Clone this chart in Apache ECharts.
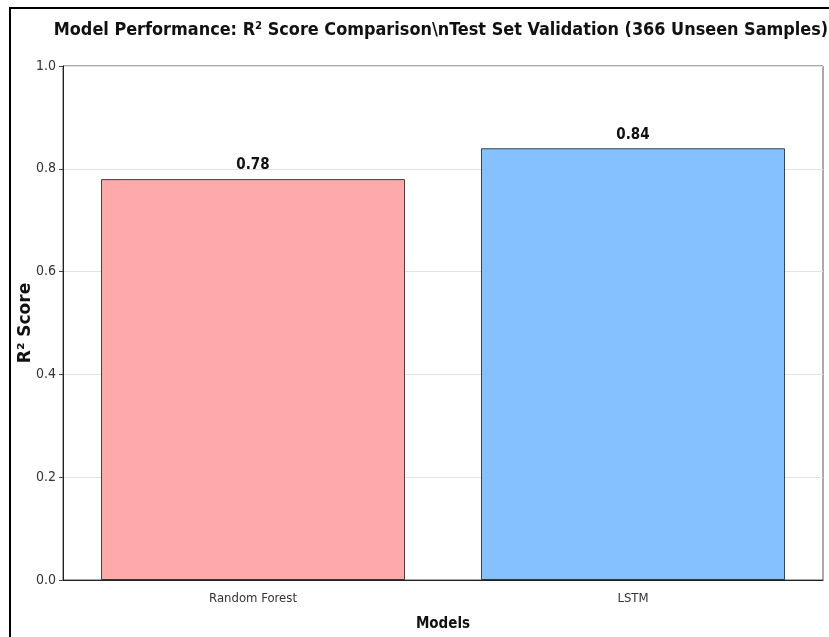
<!DOCTYPE html>
<html>
<head>
<meta charset="utf-8">
<script src="https://cdn.jsdelivr.net/npm/echarts@6/dist/echarts.min.js"></script>
<style>
  html, body { margin: 0; padding: 0; background: #fff; }
  #chart { width: 829px; height: 637px; }
</style>
</head>
<body>
<div id="chart"></div>
<script>
var models = ["Random Forest", "LSTM"];
var r2Scores = [0.78, 0.84];
var barColors = ["#ffaaaa", "#85c1ff"];
var yTicks = [0, 0.2, 0.4, 0.6, 0.8, 1.0];

var chart = echarts.init(document.getElementById("chart"));
var font = "'DejaVu Sans Condensed', 'DejaVu Sans', sans-serif";

var option = {
  animation: false,
  title: {
    text: "Model Performance: R\u00b2 Score Comparison\\nTest Set Validation (366 Unseen Samples)",
    left: 436,
    textAlign: "center",
    top: 16,
    textStyle: { fontFamily: font, fontWeight: "bold", fontSize: 17.9, color: "#111" }
  },
  grid: {
    left: 63, right: 6, top: 66, bottom: 57,
    show: true, borderColor: "#555", borderWidth: 1
  },
  xAxis: {
    type: "category",
    data: models,
    name: "Models",
    nameLocation: "middle",
    nameGap: 37,
    nameMoveOverlap: false,
    nameTextStyle: { fontFamily: font, fontWeight: "bold", fontSize: 15, color: "#111" },
    axisLine: { lineStyle: { color: "#222", width: 1 } },
    axisTick: { alignWithLabel: true, length: 4, lineStyle: { color: "#444" } },
    axisLabel: { fontFamily: font, fontSize: 13, color: "#333", margin: 12 },
    splitLine: { show: false }
  },
  yAxis: {
    type: "value",
    min: 0, max: 1, interval: 0.2,
    name: "R\u00b2 Score",
    nameLocation: "middle",
    nameGap: 29,
    nameMoveOverlap: false,
    nameTextStyle: { fontFamily: "'DejaVu Sans', sans-serif", fontWeight: "bold", fontSize: 17, color: "#111" },
    axisLine: { show: true, lineStyle: { color: "#222", width: 1 } },
    axisTick: { show: true, length: 4, lineStyle: { color: "#444" } },
    axisLabel: {
      fontFamily: font, fontSize: 14, color: "#333", margin: 7,
      formatter: function (v) { return v.toFixed(1); }
    },
    splitLine: { show: true, lineStyle: { color: "#e3e3e3", width: 1 } }
  },
  series: [{
    type: "bar",
    barWidth: "80%",
    data: r2Scores.map(function (v, i) {
      return { value: v, itemStyle: { color: barColors[i] } };
    }),
    itemStyle: { borderColor: "rgba(0,0,0,0.7)", borderWidth: 1 },
    label: {
      show: true,
      position: "top",
      distance: 6,
      fontFamily: font,
      fontWeight: "bold",
      fontSize: 15,
      color: "#111",
      formatter: function (p) { return p.value.toFixed(2); }
    }
  }],
  graphic: [{
    type: "rect",
    shape: { x: 10, y: 8, width: 840, height: 660 },
    style: { fill: "none", stroke: "#000", lineWidth: 2 },
    silent: true
  }]
};

chart.setOption(option);
</script>
</body>
</html>
